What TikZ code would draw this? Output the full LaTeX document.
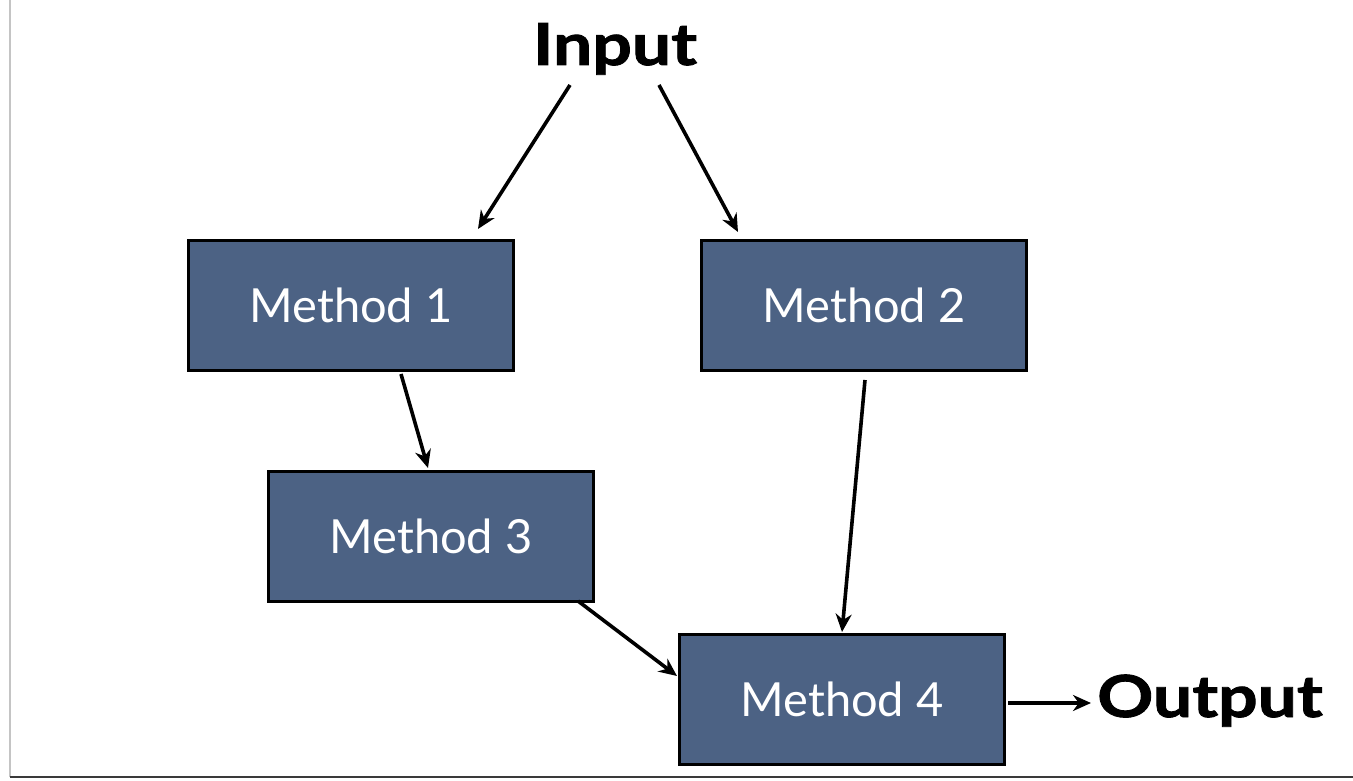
\documentclass[tikz,border=0pt]{standalone}
\usepackage{fontspec}
\setmainfont{Lato}
\newfontfamily\bigfont[BoldFeatures={FakeStretch=1.2,FakeBold=1.5}]{Lato}
\usetikzlibrary{arrows.meta}
\definecolor{boxfill}{HTML}{4C6284}
\definecolor{leftframe}{HTML}{C4C4C4}
\definecolor{bottomframe}{HTML}{3A3A3A}
\tikzset{
  methodbox/.style={draw=black, line width=3pt, fill=boxfill, minimum width=325pt, minimum height=130pt, inner sep=0pt, text=white, font=\fontsize{47}{50}\selectfont},
  bigtext/.style={inner sep=0pt, font=\bigfont\fontsize{58}{62}\selectfont\bfseries},
  arr/.style={line width=3.6pt, -{Stealth[length=18pt,width=16pt]}}
}
\begin{document}
\begin{tikzpicture}[x=1pt,y=1pt]
\useasboundingbox (0,0) rectangle (1353,780);
\fill[white] (0,0) rectangle (1353,780);
\draw[leftframe, line width=2pt] (10,780) -- (10,3);
\draw[bottomframe, line width=2pt] (10,3) -- (1353,3);

\node[bigtext, anchor=base] (in) at (615,715) {Input};
\node[bigtext, anchor=base west] (out) at (1097,63) {Output};

\node[methodbox] (m1) at (351,474.5) {Method 1};
\node[methodbox] (m2) at (864,474.5) {Method 2};
\node[methodbox] (m3) at (431,243.5) {Method 3};
\node[methodbox] (m4) at (842,80.5) {Method 4};

\draw[arr] ([shift={(-45,-20)}]in.base) -- ([shift={(127,10)}]m1.north);
\draw[arr] ([shift={(44,-20)}]in.base) -- ([shift={(-126,7)}]m2.north);
\draw[arr] ([shift={(50,-2)}]m1.south) -- ([shift={(-3,2)}]m3.north);
\draw[arr] ([shift={(1,-8)}]m2.south) -- ([shift={(0,1)}]m4.north);
\draw[arr] ([shift={(-17,2)}]m3.south east) -- ([shift={(-1,23.5)}]m4.west);
\draw[arr] ([shift={(2,-3.5)}]m4.east) -- ([shift={(-6,14)}]out.base west);
\end{tikzpicture}
\end{document}
